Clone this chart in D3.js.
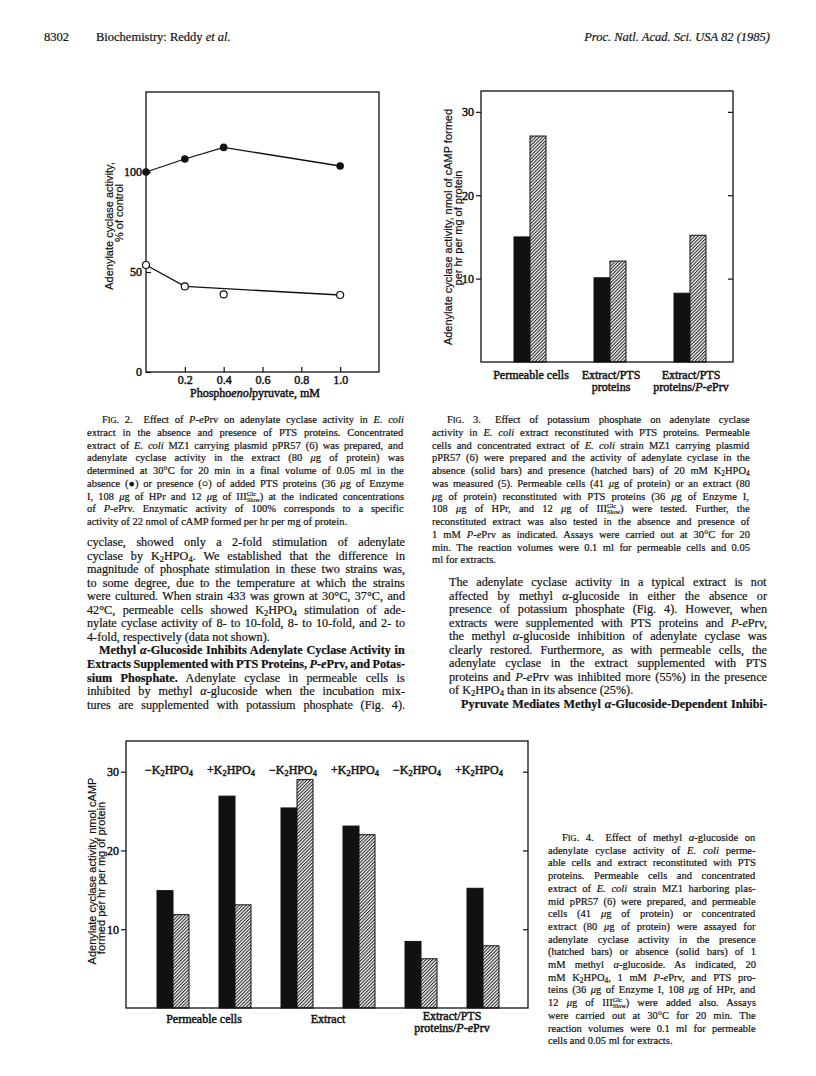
<!DOCTYPE html>
<html>
<head>
<meta charset="utf-8">
<script src="https://cdn.jsdelivr.net/npm/d3@7"></script>
<style>
  body { margin: 0; background: #fff; }
  text { fill: #111; stroke: #111; stroke-width: 0.2px; }
  text.heavy { stroke-width: 0.45px; }
</style>
</head>
<body>
<div id="page"></div>
<script>
'use strict';

var width = 816, height = 1076;
var serif = '"Liberation Serif", "Times New Roman", serif';
var sans = '"Liberation Sans", Arial, sans-serif';
var ink = '#111';

// ---- Fig. 2 data (percent of control vs P-ePrv, mM)
var pepConc = [0, 0.2, 0.4, 1.0];
var withoutPts = [100, 106.5, 112.3, 103];     // filled circles
var withPts = [53.5, 42.8, 38.8, 38.5];        // open circles
var withPtsCurve = [0, 1, 3];                  // the drawn curve skips the 0.4 point
var fig2XTicks = [0.2, 0.4, 0.6, 0.8, 1.0];
var fig2YTicks = [0, 50, 100];

// ---- Fig. 3 data (nmol cAMP / hr / mg)
var fig3Cats = [['Permeable cells'], ['Extract/PTS', 'proteins'], ['Extract/PTS', 'proteins/_i{P-e}Prv']];
var fig3Solid = [15.0, 10.1, 8.25];
var fig3Hatched = [27.1, 12.1, 15.2];
var fig3YTicks = [10, 20, 30];

// ---- Fig. 4 data
var fig4Groups = [['Permeable cells'], ['Extract'], ['Extract/PTS', 'proteins/_i{P-e}Prv']];
var fig4Pairs = ['\u2212K_s{2}HPO_s{4}', '+K_s{2}HPO_s{4}', '\u2212K_s{2}HPO_s{4}',
                 '+K_s{2}HPO_s{4}', '\u2212K_s{2}HPO_s{4}', '+K_s{2}HPO_s{4}'];
var fig4Solid = [14.9, 26.9, 25.4, 23.1, 8.45, 15.2];
var fig4Hatched = [11.85, 13.1, 29.0, 22.0, 6.25, 7.9];
var fig4YTicks = [10, 20, 30];

// ---- page text
var fig2Caption = [
  {s: 'F_c{IG}. 2.\u2002 Effect of _i{P-e}Prv on adenylate cyclase activity in _i{E. coli}', ind: 15},
  {s: 'extract in the absence and presence of PTS proteins. Concentrated'},
  {s: 'extract of _i{E. coli} MZ1 carrying plasmid pPR57 (6) was prepared, and'},
  {s: 'adenylate cyclase activity in the extract (80 _i{\u03bc}g of protein) was'},
  {s: 'determined at 30\u00b0C for 20 min in a final volume of 0.05 ml in the'},
  {s: 'absence (\u25cf) or presence (\u25cb) of added PTS proteins (36 _i{\u03bc}g of Enzyme'},
  {s: 'I, 108 _i{\u03bc}g of HPr and 12 _i{\u03bc}g of III_k{Glc|Slow}) at the indicated concentrations'},
  {s: 'of _i{P-e}Prv. Enzymatic activity of 100% corresponds to a specific'},
  {s: 'activity of 22 nmol of cAMP formed per hr per mg of protein.', last: true}
];
var fig3Caption = [
  {s: 'F_c{IG}. 3.\u2002 Effect of potassium phosphate on adenylate cyclase', ind: 15},
  {s: 'activity in _i{E. coli} extract reconstituted with PTS proteins. Permeable'},
  {s: 'cells and concentrated extract of _i{E. coli} strain MZ1 carrying plasmid'},
  {s: 'pPR57 (6) were prepared and the activity of adenylate cyclase in the'},
  {s: 'absence (solid bars) and presence (hatched bars) of 20 mM K_s{2}HPO_s{4}'},
  {s: 'was measured (5). Permeable cells (41 _i{\u03bc}g of protein) or an extract (80'},
  {s: '_i{\u03bc}g of protein) reconstituted with PTS proteins (36 _i{\u03bc}g of Enzyme I,'},
  {s: '108 _i{\u03bc}g of HPr, and 12 _i{\u03bc}g of III_k{Glc|Slow}) were tested. Further, the'},
  {s: 'reconstituted extract was also tested in the absence and presence of'},
  {s: '1 mM _i{P-e}Prv as indicated. Assays were carried out at 30\u00b0C for 20'},
  {s: 'min. The reaction volumes were 0.1 ml for permeable cells and 0.05'},
  {s: 'ml for extracts.', last: true}
];
var fig4Caption = [
  {s: 'F_c{IG}. 4.\u2002 Effect of methyl _i{\u03b1}-glucoside on', ind: 14},
  {s: 'adenylate cyclase activity of _i{E. coli} perme-'},
  {s: 'able cells and extract reconstituted with PTS'},
  {s: 'proteins. Permeable cells and concentrated'},
  {s: 'extract of _i{E. coli} strain MZ1 harboring plas-'},
  {s: 'mid pPR57 (6) were prepared, and permeable'},
  {s: 'cells (41 _i{\u03bc}g of protein) or concentrated'},
  {s: 'extract (80 _i{\u03bc}g of protein) were assayed for'},
  {s: 'adenylate cyclase activity in the presence'},
  {s: '(hatched bars) or absence (solid bars) of 1'},
  {s: 'mM methyl _i{\u03b1}-glucoside. As indicated, 20'},
  {s: 'mM K_s{2}HPO_s{4}, 1 mM _i{P-e}Prv, and PTS pro-'},
  {s: 'teins (36 _i{\u03bc}g of Enzyme I, 108 _i{\u03bc}g of HPr, and'},
  {s: '12 _i{\u03bc}g of III_k{Glc|Slow}) were added also. Assays'},
  {s: 'were carried out at 30\u00b0C for 20 min. The'},
  {s: 'reaction volumes were 0.1 ml for permeable'},
  {s: 'cells and 0.05 ml for extracts.', last: true}
];
var leftBody = [
  {s: 'cyclase, showed only a 2-fold stimulation of adenylate'},
  {s: 'cyclase by K_s{2}HPO_s{4}. We established that the difference in'},
  {s: 'magnitude of phosphate stimulation in these two strains was,'},
  {s: 'to some degree, due to the temperature at which the strains'},
  {s: 'were cultured. When strain 433 was grown at 30\u00b0C, 37\u00b0C, and'},
  {s: '42\u00b0C, permeable cells showed K_s{2}HPO_s{4} stimulation of ade-'},
  {s: 'nylate cyclase activity of 8- to 10-fold, 8- to 10-fold, and 2- to'},
  {s: '4-fold, respectively (data not shown).', last: true},
  {s: 'Methyl _i{\u03b1}-Glucoside Inhibits Adenylate Cyclase Activity in', ind: 12, b: true},
  {s: 'Extracts Supplemented with PTS Proteins, _i{P-e}Prv, and Potas-', b: true},
  {s: '_b{sium Phosphate.} Adenylate cyclase in permeable cells is'},
  {s: 'inhibited by methyl _i{\u03b1}-glucoside when the incubation mix-'},
  {s: 'tures are supplemented with potassium phosphate (Fig. 4).'}
];
var rightBody = [
  {s: 'The adenylate cyclase activity in a typical extract is not'},
  {s: 'affected by methyl _i{\u03b1}-glucoside in either the absence or'},
  {s: 'presence of potassium phosphate (Fig. 4). However, when'},
  {s: 'extracts were supplemented with PTS proteins and _i{P-e}Prv,'},
  {s: 'the methyl _i{\u03b1}-glucoside inhibition of adenylate cyclase was'},
  {s: 'clearly restored. Furthermore, as with permeable cells, the'},
  {s: 'adenylate cyclase in the extract supplemented with PTS'},
  {s: 'proteins and _i{P-e}Prv was inhibited more (55%) in the presence'},
  {s: 'of K_s{2}HPO_s{4} than in its absence (25%).', last: true},
  {s: 'Pyruvate Mediates Methyl _i{\u03b1}-Glucoside-Dependent Inhibi-', ind: 12, b: true}
];

var svg = d3.select('#page').append('svg')
    .attr('width', width)
    .attr('height', height);

svg.append('rect').attr('width', width).attr('height', height).attr('fill', '#fff');

// hatch for the "+" bars
var pat = svg.append('defs').append('pattern')
    .attr('id', 'hatch')
    .attr('patternUnits', 'userSpaceOnUse')
    .attr('width', 2.4).attr('height', 2.4)
    .attr('patternTransform', 'rotate(45)');
pat.append('rect').attr('width', 2.4).attr('height', 2.4).attr('fill', '#fff');
pat.append('line').attr('x1', 0.6).attr('y1', 0).attr('x2', 0.6).attr('y2', 2.4)
    .attr('stroke', ink).attr('stroke-width', 1);

// tiny markup: _i{} italic, _b{} bold, _c{} small caps, _s{} sub, _u{} sup, _k{a|b} stacked
function rich(t, str, size) {
  var re = /_([ibcsuk])\{([^}]*)\}/g, last = 0, m;
  while ((m = re.exec(str)) !== null) {
    if (m.index > last) t.append('tspan').text(str.slice(last, m.index));
    var k = m[1], s = m[2];
    if (k === 'i') t.append('tspan').attr('font-style', 'italic').text(s);
    else if (k === 'b') t.append('tspan').attr('font-weight', 'bold').text(s);
    else if (k === 'c') t.append('tspan').attr('font-size', size * 0.78).text(s);
    else if (k === 's') t.append('tspan').attr('font-size', size * 0.7)
        .attr('baseline-shift', -size * 0.16).text(s);
    else if (k === 'u') t.append('tspan').attr('font-size', size * 0.72)
        .attr('baseline-shift', size * 0.35).text(s);
    else if (k === 'k') {
      var parts = s.split('|');
      var top = t.append('tspan').attr('font-size', size * 0.6)
          .attr('baseline-shift', size * 0.42).text(parts[0]);
      var w = top.node().getComputedTextLength();
      t.append('tspan').attr('font-size', size * 0.6)
          .attr('baseline-shift', -size * 0.2).attr('dx', -w).text(parts[1]);
    }
    last = re.lastIndex;
  }
  if (last < str.length) t.append('tspan').text(str.slice(last));
}

function addText(parent, str, o) {
  var t = parent.append('text')
      .attr('x', o.x).attr('y', o.y)
      .attr('font-family', o.font || serif)
      .attr('font-size', o.size);
  if (o.heavy) t.attr('class', 'heavy');
  if (o.bold) t.attr('font-weight', 'bold');
  if (o.italic) t.attr('font-style', 'italic');
  if (o.anchor) t.attr('text-anchor', o.anchor);
  if (o.rotate) t.attr('transform', 'rotate(-90,' + o.x + ',' + o.y + ')');
  rich(t, str, o.size);
  if (o.justify) {
    // stretch word gaps until the line spans the column
    var n = (t.text().match(/ /g) || []).length, ws = 0;
    for (var k = 0; k < 3 && n; k++) {
      var bb = t.node().getBBox();
      ws += (o.justify - bb.width) / n;
      t.style('word-spacing', ws + 'px');
    }
  }
  return t;
}

// a justified block of lines
function block(lines, x0, w, y0, lead, size) {
  var g = svg.append('g');
  lines.forEach(function(l, i) {
    var ind = l.ind || 0;
    addText(g, l.s, {
      x: x0 + ind, y: y0 + i * lead, size: size, bold: l.b,
      justify: l.last ? 0 : w - ind
    });
  });
}

function frame(g, f) {
  g.append('rect')
      .attr('x', f.l).attr('y', f.t)
      .attr('width', f.r - f.l).attr('height', f.b - f.t)
      .attr('fill', 'none').attr('stroke', ink).attr('stroke-width', 1.3);
}

function styleAxis(sel) {
  sel.select('.domain').remove();
  sel.selectAll('.tick line').attr('stroke', ink).attr('stroke-width', 1.2);
  sel.selectAll('.tick text')
      .attr('class', 'heavy')
      .attr('font-family', serif).attr('font-size', 12)
      .attr('fill', ink);
}

// ---------------- header
addText(svg, '8302', {x: 44, y: 41, size: 12.5});
addText(svg, 'Biochemistry: Reddy _i{et al.}', {x: 96, y: 41, size: 12.5});
addText(svg, 'Proc. Natl. Acad. Sci. USA 82 (1985)', {x: 770, y: 41, size: 12.5, italic: true, anchor: 'end'});

// ---------------- Fig. 2
var f2 = {l: 146, t: 92, r: 379, b: 372};
var x2 = d3.scaleLinear().domain([0, 1.2]).range([f2.l, f2.r]);
var y2 = d3.scaleLinear().domain([0, 140]).range([f2.b, f2.t]);
var g2 = svg.append('g');
frame(g2, f2);

g2.append('g')
    .attr('transform', 'translate(0,' + f2.b + ')')
    .call(d3.axisBottom(x2).tickValues(fig2XTicks).tickFormat(d3.format('.1f'))
        .tickSizeInner(-5).tickSizeOuter(0).tickPadding(3))
    .call(styleAxis);

g2.append('g')
    .attr('transform', 'translate(' + f2.l + ',0)')
    .call(d3.axisLeft(y2).tickValues(fig2YTicks).tickFormat(d3.format('d'))
        .tickSizeInner(-5).tickSizeOuter(0).tickPadding(4))
    .call(styleAxis);

var lineTop = d3.line()
    .x(function(i) { return x2(pepConc[i]); })
    .y(function(i) { return y2(withoutPts[i]); });
var lineBot = d3.line()
    .x(function(i) { return x2(pepConc[i]); })
    .y(function(i) { return y2(withPts[i]); });

g2.append('path').datum(d3.range(pepConc.length))
    .attr('d', lineTop).attr('fill', 'none').attr('stroke', ink).attr('stroke-width', 1.3);
g2.append('path').datum(withPtsCurve)
    .attr('d', lineBot).attr('fill', 'none').attr('stroke', ink).attr('stroke-width', 1.3);

g2.selectAll('circle.filled')
    .data(withoutPts)
    .enter().append('circle')
    .attr('class', 'filled')
    .attr('cx', function(d, i) { return x2(pepConc[i]); })
    .attr('cy', function(d) { return y2(d); })
    .attr('r', 3.8)
    .attr('fill', ink);

g2.selectAll('circle.open')
    .data(withPts)
    .enter().append('circle')
    .attr('class', 'open')
    .attr('cx', function(d, i) { return x2(pepConc[i]); })
    .attr('cy', function(d) { return y2(d); })
    .attr('r', 3.5)
    .attr('fill', '#fff').attr('stroke', ink).attr('stroke-width', 1.2);

addText(g2, 'Phospho_i{enol}pyruvate, mM', {x: 255, y: 397, size: 12, anchor: 'middle', heavy: true});
addText(g2, 'Adenylate cyclase activity,', {x: 113, y: 226, size: 11, font: sans, anchor: 'middle', rotate: true});
addText(g2, '% of control', {x: 123, y: 213, size: 11, font: sans, anchor: 'middle', rotate: true});

// ---------------- Fig. 3
var f3 = {l: 481, t: 91, r: 733, b: 362};
var x3 = d3.scalePoint().domain(d3.range(fig3Cats.length)).range([f3.l + 49, f3.r - 43]);
var y3 = d3.scaleLinear().domain([0, 32.5]).range([f3.b, f3.t]);
var bw3 = 16;
var g3 = svg.append('g');

g3.append('g')
    .attr('transform', 'translate(' + f3.l + ',0)')
    .call(d3.axisLeft(y3).tickValues(fig3YTicks).tickSizeInner(5).tickSizeOuter(0).tickPadding(2))
    .call(styleAxis);
g3.append('g')
    .attr('transform', 'translate(' + f3.r + ',0)')
    .call(d3.axisRight(y3).tickValues(fig3YTicks).tickFormat('').tickSizeInner(-5).tickSizeOuter(0))
    .call(styleAxis);

g3.selectAll('rect.solid')
    .data(fig3Solid)
    .enter().append('rect')
    .attr('class', 'solid')
    .attr('x', function(d, i) { return x3(i) - bw3; })
    .attr('y', function(d) { return y3(d); })
    .attr('width', bw3)
    .attr('height', function(d) { return y3(0) - y3(d); })
    .attr('fill', ink).attr('stroke', ink);

g3.selectAll('rect.hatched')
    .data(fig3Hatched)
    .enter().append('rect')
    .attr('class', 'hatched')
    .attr('x', function(d, i) { return x3(i); })
    .attr('y', function(d) { return y3(d); })
    .attr('width', bw3)
    .attr('height', function(d) { return y3(0) - y3(d); })
    .attr('fill', 'url(#hatch)').attr('stroke', ink).attr('stroke-width', 1);

frame(g3, f3);

fig3Cats.forEach(function(lines, i) {
  lines.forEach(function(s, j) {
    addText(g3, s, {x: x3(i) + 1, y: f3.b + 17 + j * 12, size: 12, anchor: 'middle', heavy: true});
  });
});

addText(g3, 'Adenylate cyclase activity, nmol of cAMP formed', {x: 452, y: 227, size: 11, font: sans, anchor: 'middle', rotate: true});
addText(g3, 'per hr per mg of protein', {x: 462, y: 228, size: 11, font: sans, anchor: 'middle', rotate: true});

// ---------------- Fig. 4
var f4 = {l: 126, t: 741, r: 528, b: 1008};
var x4 = d3.scalePoint().domain(d3.range(fig4Pairs.length)).range([f4.l + 47, f4.r - 45]);
var y4 = d3.scaleLinear().domain([0, 33.9]).range([f4.b, f4.t]);
var bw4 = 16;
var g4 = svg.append('g');

g4.append('g')
    .attr('transform', 'translate(' + f4.l + ',0)')
    .call(d3.axisLeft(y4).tickValues(fig4YTicks).tickSizeInner(5).tickSizeOuter(0).tickPadding(2))
    .call(styleAxis);
g4.append('g')
    .attr('transform', 'translate(' + f4.r + ',0)')
    .call(d3.axisRight(y4).tickValues(fig4YTicks).tickFormat('').tickSizeInner(-5).tickSizeOuter(0))
    .call(styleAxis);

g4.selectAll('rect.solid')
    .data(fig4Solid)
    .enter().append('rect')
    .attr('class', 'solid')
    .attr('x', function(d, i) { return x4(i) - bw4; })
    .attr('y', function(d) { return y4(d); })
    .attr('width', bw4)
    .attr('height', function(d) { return y4(0) - y4(d); })
    .attr('fill', ink).attr('stroke', ink);

g4.selectAll('rect.hatched')
    .data(fig4Hatched)
    .enter().append('rect')
    .attr('class', 'hatched')
    .attr('x', function(d, i) { return x4(i); })
    .attr('y', function(d) { return y4(d); })
    .attr('width', bw4)
    .attr('height', function(d) { return y4(0) - y4(d); })
    .attr('fill', 'url(#hatch)').attr('stroke', ink).attr('stroke-width', 1);

frame(g4, f4);

fig4Pairs.forEach(function(s, i) {
  addText(g4, s, {x: x4(i) - 4, y: f4.t + 33, size: 12, anchor: 'middle', heavy: true});
});

fig4Groups.forEach(function(lines, k) {
  var cx = (x4(2 * k) + x4(2 * k + 1)) / 2;
  lines.forEach(function(s, j) {
    addText(g4, s, {x: cx, y: f4.b + 15 - (lines.length - 1) * 3 + j * 12, size: 12, anchor: 'middle', heavy: true});
  });
});

addText(g4, 'Adenylate cyclase activity, nmol cAMP', {x: 96, y: 871, size: 11, font: sans, anchor: 'middle', rotate: true});
addText(g4, 'formed per hr per mg of protein', {x: 105, y: 878, size: 11, font: sans, anchor: 'middle', rotate: true});

// ---------------- captions and running text
block(fig2Caption, 87, 317, 423, 12.75, 10.5);
block(fig3Caption, 432, 318, 423, 12.75, 10.5);
block(fig4Caption, 548, 208, 841, 12.7, 10.5);
block(leftBody, 87, 318, 546, 13.55, 12.2);
block(rightBody, 449, 318, 586, 13.5, 12.2);
</script>
</body>
</html>
